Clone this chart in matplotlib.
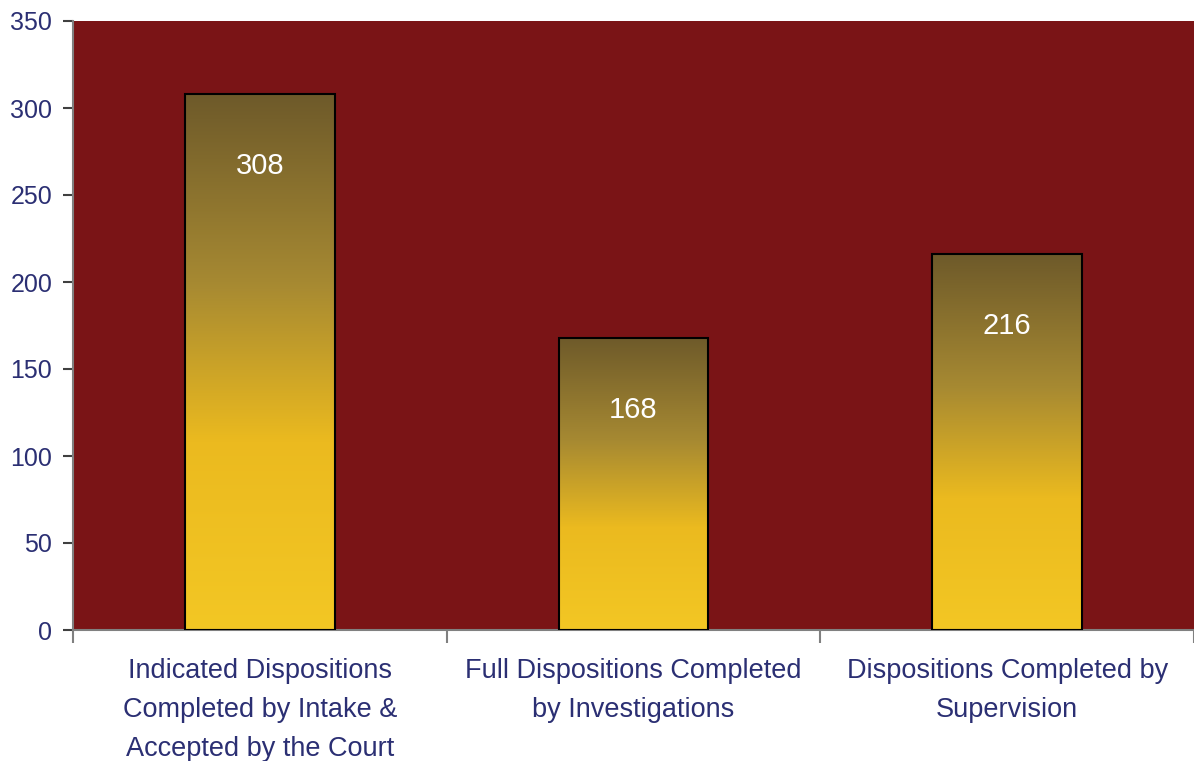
import numpy as np
import matplotlib.pyplot as plt
from matplotlib.colors import LinearSegmentedColormap
from matplotlib.patches import Rectangle

categories = [
    "Indicated Dispositions\nCompleted by Intake &\nAccepted by the Court",
    "Full Dispositions Completed\nby Investigations",
    "Dispositions Completed by\nSupervision",
]
values = [308, 168, 216]
yticks = [0, 50, 100, 150, 200, 250, 300, 350]

plt.rcParams["font.family"] = ["Liberation Sans", "DejaVu Sans"]
navy = "#2B2F73"
bg = "#7A1416"

# bottom -> top gradient of each bar
grad = LinearSegmentedColormap.from_list(
    "gold", [(0.0, "#F3C724"), (0.35, "#EBBA1F"), (0.65, "#A68932"), (1.0, "#6E5A2A")]
)

fig = plt.figure(figsize=(11.94, 7.61), dpi=100)
ax = fig.add_axes([73 / 1194, 131 / 761, 1 - 73 / 1194, 609 / 761])
ax.set_facecolor(bg)

x = np.arange(len(values))
width = 0.4
bars = ax.bar(x, values, width=width, color="none", edgecolor="black", linewidth=1.5, zorder=3)

g = np.linspace(0, 1, 256).reshape(-1, 1)
for b in bars:
    x0, y0 = b.get_x(), b.get_y()
    w, h = b.get_width(), b.get_height()
    im = ax.imshow(g, cmap=grad, origin="lower", aspect="auto",
                   extent=[x0, x0 + w, y0, y0 + h], zorder=2)
    im.set_clip_path(Rectangle((x0, y0), w, h, transform=ax.transData))
    ax.annotate(str(int(h)), (x0 + w / 2, y0 + h), xytext=(0, -52), textcoords="offset points",
                ha="center", va="center", color="white", fontsize=21, zorder=4)

ax.set_xlim(-0.5, len(values) - 0.5)
ax.set_ylim(0, 350)
ax.set_yticks(yticks)
ax.set_yticklabels([str(t) for t in yticks], color=navy, fontsize=18)
ax.set_xticks(x)
ax.set_xticklabels(categories, color=navy, fontsize=19.5, linespacing=1.65)
ax.tick_params(axis="x", length=0, pad=20)
ax.set_xticks(np.arange(-0.5, len(values)), minor=True)
ax.tick_params(axis="x", which="minor", length=9, color="#808080", width=1.5)
ax.tick_params(axis="y", length=7, color="#404040", width=1.5, pad=8)

for s in ["top", "right"]:
    ax.spines[s].set_visible(False)
ax.spines["left"].set_color("#808080")
ax.spines["bottom"].set_color("#808080")
ax.spines["left"].set_linewidth(1.5)
ax.spines["bottom"].set_linewidth(1.5)

fig.savefig("out.png", dpi=100)
